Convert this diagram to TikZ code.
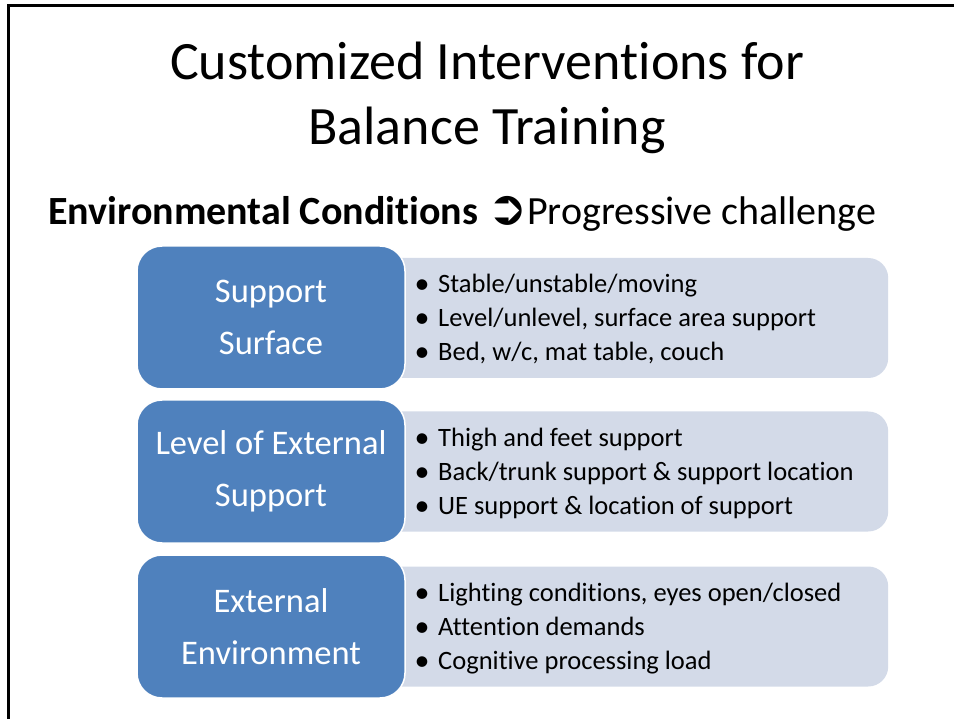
\documentclass[tikz,border=0pt]{standalone}
\usepackage{fontspec}
\setmainfont{Carlito}[Ligatures={NoCommon}]
\newfontfamily\symfont{DejaVu Sans}
\usetikzlibrary{positioning,backgrounds}

\definecolor{boxblue}{HTML}{4F81BD}
\definecolor{boxgrey}{HTML}{D3DAE8}

\tikzset{
  catbox/.style={fill=boxblue, draw=white, line width=1.5pt,
    rounded corners=25pt, minimum width=268pt, minimum height=143pt,
    inner sep=0pt, outer sep=0pt, text=white, align=center,
    font=\fontsize{34.5}{52}\selectfont},
  listbox/.style={fill=boxgrey, rounded corners=20pt,
    minimum width=513pt, minimum height=120pt, inner sep=0pt},
  itemtext/.style={align=left, inner sep=0pt,
    font=\fontsize{26.5}{34}\selectfont},
}
\newcommand{\itm}[1]{\makebox[20pt][l]{\hspace{-3.5pt}\raisebox{-0.6pt}{\fontsize{30}{34}\selectfont\textbullet}}#1}

\begin{document}
\begin{tikzpicture}[x=1pt,y=-1pt]
    \useasboundingbox (0,0) rectangle (954,719);

    % Frame
    \draw[line width=3pt] (8.5,719) -- (8.5,5.5) -- (954,5.5);

    % Title
    \node[align=center, font=\fontsize{54}{65}\selectfont] (title) at (487,98)
        {Customized Interventions for\\Balance Training};
    \node[anchor=base west, inner sep=0pt, font=\fontsize{40}{44}\selectfont] (heading) at (48,225)
        {\textbf{Environmental Conditions} {\symfont\fontsize{48}{48}\selectfont ➲}Progressive challenge};

    % Blue categories
    \node[catbox] (surface) at (271,317.5) {Support\\Surface};
    \node[catbox, below=11pt of surface] (extsupport) {Level of External\\Support};
    \node[catbox, below=12pt of extsupport] (environment) {External\\Environment};

    % Grey lists
    \begin{scope}[on background layer]
    \node[listbox, right=-30pt of surface, yshift=-0.5pt] (surfacelist) {};
    \node[listbox, right=-30pt of extsupport] (extsupportlist) {};
    \node[listbox, right=-30pt of environment] (environmentlist) {};
    \end{scope}

    % Items
    \node[itemtext, right=43pt of surfacelist.west, yshift=-1pt] (surfaceitems)
        {\itm{Stable/unstable/moving}\\
         \itm{Level/unlevel, surface area support}\\
         \itm{Bed, w/c, mat table, couch}};
    \node[itemtext, right=43pt of extsupportlist.west, yshift=-2pt] (extsupportitems)
        {\itm{Thigh and feet support}\\
         \itm{Back/trunk support \& support location}\\
         \itm{UE support \& location of support}};
    \node[itemtext, right=43pt of environmentlist.west, yshift=-2pt] (environmentitems)
        {\itm{Lighting conditions, eyes open/closed}\\
         \itm{Attention demands}\\
         \itm{Cognitive processing load}};
\end{tikzpicture}
\end{document}
